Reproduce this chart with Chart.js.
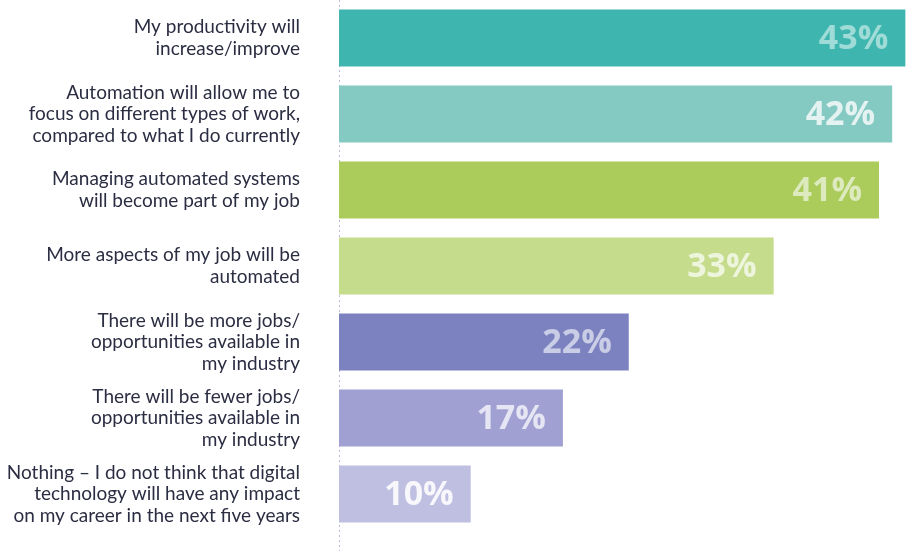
<!DOCTYPE html>
<html>
<head>
<meta charset="utf-8">
<script src="https://cdn.jsdelivr.net/npm/chart.js@4"></script>
<style>
  html, body { margin: 0; padding: 0; background: #fff; }
  #wrap { width: 908px; height: 551px; position: relative; }
</style>
</head>
<body>
<div id="wrap"><canvas id="chart"></canvas></div>
<script>
const categories = [
  ['My productivity will', 'increase/improve'],
  ['Automation will allow me to', 'focus on different types of work,', 'compared to what I do currently'],
  ['Managing automated systems', 'will become part of my job'],
  ['More aspects of my job will be', 'automated'],
  ['There will be more jobs/', 'opportunities available in', 'my industry'],
  ['There will be fewer jobs/', 'opportunities available in', 'my industry'],
  ['Nothing \u2013 I do not think that digital', 'technology will have any impact', 'on my career in the next five years']
];
const values = [43, 42, 41, 33, 22, 17, 10];
const valueLabels = ['43%', '42%', '41%', '33%', '22%', '17%', '10%'];

const barColors = ['#3eb6af', '#85c9c3', '#abcb5b', '#c5dc8c', '#7c82c0', '#a0a1d2', '#bfbfe2'];
const labelColors = [
  'rgba(255,255,255,0.5)', 'rgba(255,255,255,0.78)', 'rgba(255,255,255,0.6)',
  'rgba(255,255,255,0.7)', 'rgba(255,255,255,0.6)', 'rgba(255,255,255,0.72)',
  'rgba(255,255,255,0.88)'
];

// dotted line at zero, full height of the canvas
const zeroLine = {
  id: 'zeroLine',
  beforeDatasetsDraw(chart) {
    const ctx = chart.ctx;
    const x = Math.round(chart.scales.x.getPixelForValue(0)) + 0.5;
    ctx.save();
    ctx.strokeStyle = '#b9b9dc';
    ctx.lineWidth = 1;
    ctx.setLineDash([2, 3]);
    ctx.beginPath();
    ctx.moveTo(x, 0);
    ctx.lineTo(x, chart.height);
    ctx.stroke();
    ctx.restore();
  }
};

const valueText = {
  id: 'valueText',
  afterDatasetsDraw(chart) {
    const ctx = chart.ctx;
    const meta = chart.getDatasetMeta(0);
    ctx.save();
    ctx.font = 'bold 34px "Open Sans", sans-serif';
    ctx.textAlign = 'right';
    ctx.textBaseline = 'middle';
    meta.data.forEach((bar, i) => {
      ctx.fillStyle = labelColors[i];
      ctx.fillText(valueLabels[i], bar.x - 17, bar.y + 1);
    });
    ctx.restore();
  }
};

new Chart(document.getElementById('chart'), {
  type: 'bar',
  data: {
    labels: categories,
    datasets: [{
      data: values,
      backgroundColor: barColors,
      borderWidth: 0,
      barPercentage: 0.75,
      categoryPercentage: 1
    }]
  },
  options: {
    indexAxis: 'y',
    responsive: true,
    maintainAspectRatio: false,
    animation: false,
    layout: { padding: { top: 0, right: 0, bottom: 19, left: 0 } },
    plugins: { legend: { display: false }, tooltip: { enabled: false } },
    scales: {
      x: {
        min: 0,
        max: 43.2,
        display: false
      },
      y: {
        grid: { display: false, drawTicks: false },
        border: { display: false },
        afterFit(scale) {
          scale.width = 339;
          scale.paddingTop = 0;
          scale.paddingBottom = 0;
        },
        ticks: {
          padding: 39,
          color: '#2b2d42',
          font: { family: 'Lato, sans-serif', size: 19, lineHeight: 1.13 }
        }
      }
    }
  },
  plugins: [zeroLine, valueText]
});
</script>
</body>
</html>
